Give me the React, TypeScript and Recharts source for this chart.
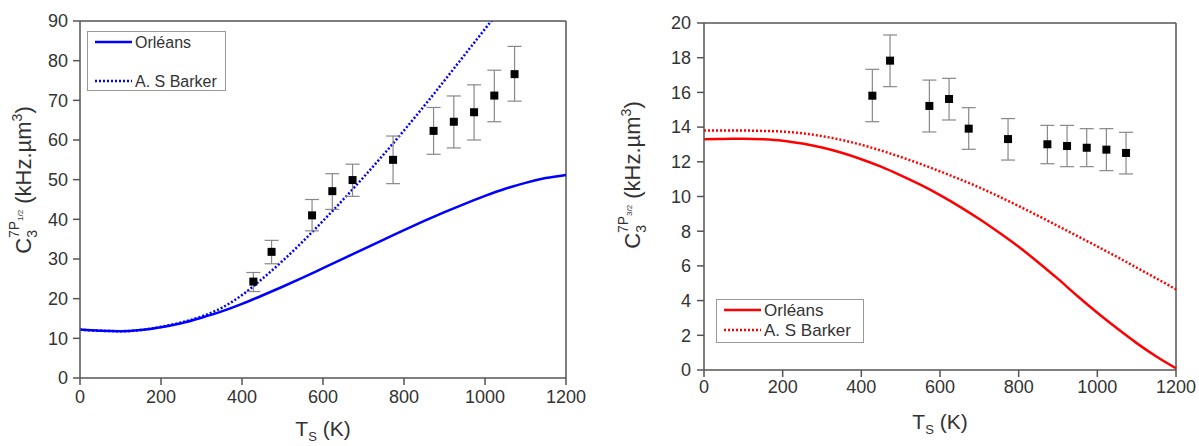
import React from "react";
import { ComposedChart, Line, Scatter, ErrorBar, XAxis, YAxis, ReferenceLine } from "recharts";

const FONT = "'Liberation Sans', Arial, sans-serif";
const AXIS = "#555";
const TEXT = "#333";

// theory curves, T step 50 K
const curveT = [0, 50, 100, 150, 200, 250, 300, 350, 400, 450, 500, 550, 600, 650, 700, 750, 800, 850, 900, 950, 1000, 1050, 1100, 1150, 1200];
const orleansHalf = [12.2, 11.9, 11.8, 12.1, 12.8, 13.8, 15.2, 16.8, 18.7, 20.8, 23.0, 25.3, 27.7, 30.1, 32.5, 34.9, 37.3, 39.6, 41.8, 43.9, 45.9, 47.7, 49.2, 50.4, 51.2];
const barkerHalf = [12.2, 11.9, 11.8, 12.1, 12.9, 14.0, 15.5, 17.7, 20.9, 25.0, 29.5, 34.4, 39.6, 45.0, 50.6, 56.4, 62.4, 68.6, 75.0, 81.5, 88.0, 94.5];
const orleansThreeHalf = [13.3, 13.32, 13.33, 13.3, 13.22, 13.05, 12.82, 12.52, 12.15, 11.72, 11.22, 10.68, 10.08, 9.42, 8.7, 7.92, 7.1, 6.2, 5.25, 4.25, 3.3, 2.4, 1.55, 0.78, 0.1];
const barkerThreeHalf = [13.8, 13.8, 13.8, 13.78, 13.74, 13.64, 13.48, 13.26, 12.98, 12.65, 12.28, 11.88, 11.45, 11.0, 10.52, 10.0, 9.45, 8.88, 8.3, 7.71, 7.12, 6.52, 5.9, 5.28, 4.65];

// measurements
const expT = [428, 473, 573, 623, 673, 773, 873, 923, 973, 1023, 1073];
const expHalf = [24.3, 31.8, 41.0, 47.1, 49.9, 55.0, 62.3, 64.6, 67.0, 71.2, 76.6];
const expHalfHi = [26.6, 34.7, 45.0, 51.5, 53.9, 61.0, 68.2, 71.1, 73.9, 77.6, 83.6];
const expHalfLo = [21.8, 28.8, 37.1, 42.5, 45.8, 49.0, 56.4, 58.0, 60.0, 64.6, 69.8];
const expThreeHalf = [15.81, 17.83, 15.22, 15.62, 13.91, 13.31, 13.01, 12.91, 12.81, 12.7, 12.51];
const expThreeHalfHi = [17.33, 19.31, 16.71, 16.81, 15.12, 14.49, 14.1, 14.1, 13.91, 13.91, 13.7];
const expThreeHalfLo = [14.31, 16.33, 13.72, 14.41, 12.72, 12.1, 11.89, 11.72, 11.72, 11.49, 11.3];

const xTicks = [0, 200, 400, 600, 800, 1000, 1200];
const yTicksHalf = [0, 10, 20, 30, 40, 50, 60, 70, 80, 90];
const yTicksThreeHalf = [0, 2, 4, 6, 8, 10, 12, 14, 16, 18, 20];

const toCurve = (ys: number[]) => ys.map((y, i) => ({ x: curveT[i], y }));
const toPoints = (ys: number[], hi: number[], lo: number[]) =>
  ys.map((y, i) => ({ x: expT[i], y, err: [y - lo[i], hi[i] - y] }));

const Square = (p: any) => <rect x={p.cx - 4} y={p.cy - 4} width={8} height={8} fill="#000" />;

const tickStyle = { fontSize: 18, fill: TEXT, fontFamily: FONT };

function XTitle(props: any) {
  const { x, y, width } = props.viewBox;
  return (
    <text x={x + width / 2} y={y + props.off} textAnchor="middle" fontSize={21} fill={TEXT} fontFamily={FONT}>
      T<tspan fontSize={13} dy={5}>S</tspan>
      <tspan dy={-5}> (K)</tspan>
    </text>
  );
}

function YTitle({ cx, cy, sub }: { cx: number; cy: number; sub: string }) {
  return (
    <text transform={`rotate(-90 ${cx} ${cy})`} x={cx} y={cy} textAnchor="middle" fontSize={22} fill={TEXT} fontFamily={FONT}>
      C<tspan fontSize={14} dy={6}>3</tspan>
      <tspan fontSize={14} dx={-8} dy={-18}>7P</tspan>
      <tspan fontSize={8} dy={4}>{sub}</tspan>
      <tspan fontSize={22} dy={8}> (kHz.µm</tspan>
      <tspan fontSize={14} dy={-9}>3</tspan>
      <tspan fontSize={22} dy={9}>)</tspan>
    </text>
  );
}

function LegendBox({ left, top, w, h, color, rowGap, fontSize }: any) {
  return (
    <svg style={{ position: "absolute", left, top }} width={w + 2} height={h + 2}>
      <rect x={0.5} y={0.5} width={w} height={h} fill="#fff" stroke="#999" />
      <line x1={8} x2={45} y1={11} y2={11} stroke={color} strokeWidth={2.5} />
      <text x={48} y={11} dy="0.35em" fontSize={fontSize} fill={TEXT} fontFamily={FONT}>Orléans</text>
      <line x1={8} x2={45} y1={11 + rowGap} y2={11 + rowGap} stroke={color} strokeWidth={2.5} strokeDasharray="2 2" />
      <text x={48} y={11 + rowGap} dy="0.35em" fontSize={fontSize} fill={TEXT} fontFamily={FONT}>A. S Barker</text>
    </svg>
  );
}

export default function App() {
  return (
    <div style={{ position: "absolute", left: 0, top: 0, width: 1199, height: 446, background: "#fff", overflow: "hidden" }}>
      <div style={{ position: "absolute", left: 0, top: 0 }}>
        <ComposedChart width={600} height={446} margin={{ top: 21, right: 34, left: 0, bottom: 38 }}>
          <XAxis
            type="number"
            dataKey="x"
            domain={[0, 1200]}
            ticks={xTicks}
            height={30}
            tickSize={7}
            tickMargin={5}
            tick={tickStyle}
            stroke={AXIS}
            strokeWidth={1.5}
            label={<XTitle off={58} />}
          />
          <YAxis
            type="number"
            domain={[0, 90]}
            ticks={yTicksHalf}
            allowDataOverflow
            width={80}
            tickSize={7}
            tickMargin={5}
            tick={tickStyle}
            stroke={AXIS}
            strokeWidth={1.5}
            label={<YTitle cx={31} cy={180} sub="1/2" />}
          />
          <ReferenceLine y={90} stroke={AXIS} strokeWidth={1.5} />
          <ReferenceLine x={1200} stroke={AXIS} strokeWidth={1.5} />
          <Line data={toCurve(orleansHalf)} dataKey="y" type="monotone" stroke="#0000ff" strokeWidth={2.5} dot={false} isAnimationActive={false} />
          <Line data={toCurve(barkerHalf)} dataKey="y" type="monotone" stroke="#0000ff" strokeWidth={2.5} strokeDasharray="2 2" dot={false} isAnimationActive={false} />
          <Scatter data={toPoints(expHalf, expHalfHi, expHalfLo)} dataKey="y" shape={Square} isAnimationActive={false}>
            <ErrorBar dataKey="err" direction="y" width={7} stroke="#888" strokeWidth={1.2} />
          </Scatter>
        </ComposedChart>
        <LegendBox left={87} top={31} w={138} h={59} color="#0000ff" rowGap={39} fontSize={16} />
      </div>
      <div style={{ position: "absolute", left: 600, top: 0 }}>
        <ComposedChart width={599} height={446} margin={{ top: 23, right: 23, left: 0, bottom: 46 }}>
          <XAxis
            type="number"
            dataKey="x"
            domain={[0, 1200]}
            ticks={xTicks}
            height={30}
            tickSize={7}
            tickMargin={3}
            tick={tickStyle}
            stroke={AXIS}
            strokeWidth={1.5}
            label={<XTitle off={59} />}
          />
          <YAxis
            type="number"
            domain={[0, 20]}
            ticks={yTicksThreeHalf}
            width={104}
            tickSize={7}
            tickMargin={6}
            tick={tickStyle}
            stroke={AXIS}
            strokeWidth={1.5}
            label={<YTitle cx={40} cy={175} sub="3/2" />}
          />
          <ReferenceLine y={20} stroke={AXIS} strokeWidth={1.5} />
          <ReferenceLine x={1200} stroke={AXIS} strokeWidth={1.5} />
          <Line data={toCurve(orleansThreeHalf)} dataKey="y" type="monotone" stroke="#ff0000" strokeWidth={2.5} dot={false} isAnimationActive={false} />
          <Line data={toCurve(barkerThreeHalf)} dataKey="y" type="monotone" stroke="#ff0000" strokeWidth={2.5} strokeDasharray="2 2" dot={false} isAnimationActive={false} />
          <Scatter data={toPoints(expThreeHalf, expThreeHalfHi, expThreeHalfLo)} dataKey="y" shape={Square} isAnimationActive={false}>
            <ErrorBar dataKey="err" direction="y" width={7} stroke="#888" strokeWidth={1.2} />
          </Scatter>
        </ComposedChart>
        <LegendBox left={116} top={299} w={147} h={43} color="#ff0000" rowGap={20} fontSize={17} />
      </div>
    </div>
  );
}
